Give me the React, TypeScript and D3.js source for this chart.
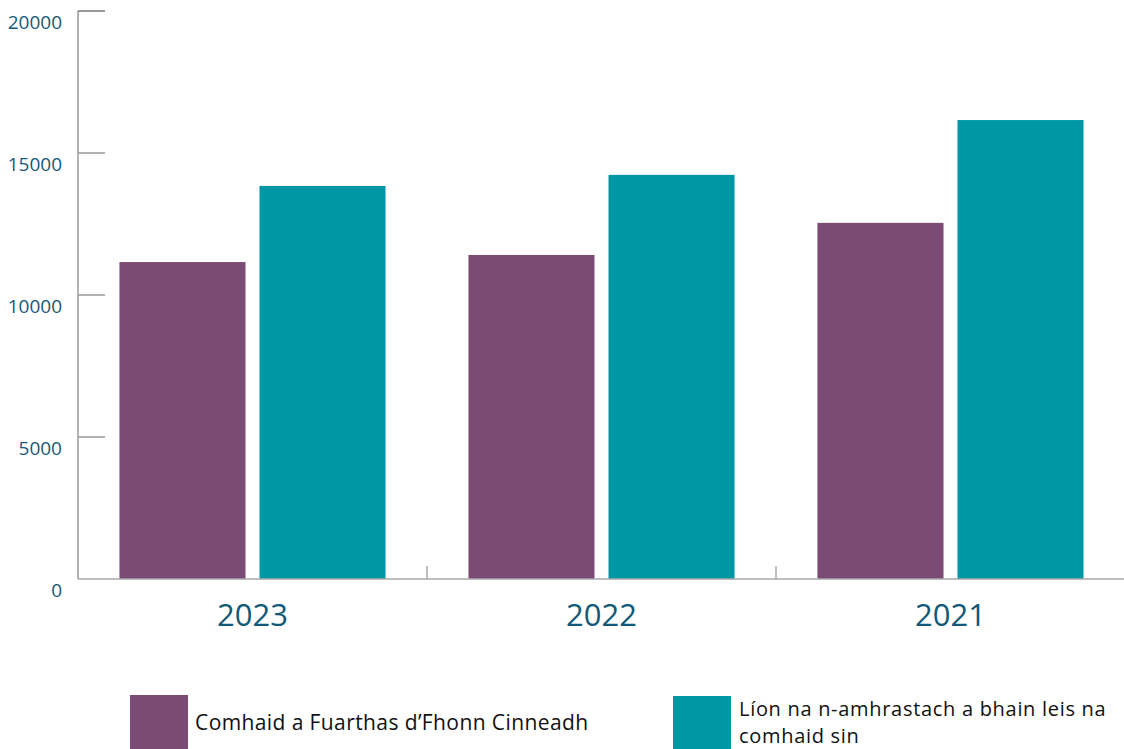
import React from "react";
import * as d3 from "d3";

const categories = ["2023", "2022", "2021"];
const seriesNames = ["Comhaid a Fuarthas d’Fhonn Cinneadh", "Líon na n-amhrastach a bhain leis na comhaid sin"];
const filesReceived = [11160, 11410, 12540];
const suspectsCount = [13840, 14230, 16160];
const yTicks = [0, 5000, 10000, 15000, 20000];
const colors = ["#7b4a75", "#0097a4"];

const W = 1124;
const H = 749;
const left = 78;
const right = 1125;
const top = 11;
const bottom = 579;

export default function App() {
  const y = d3.scaleLinear().domain([0, 20000]).range([bottom, top]);
  const x0 = d3.scaleBand<string>().domain(categories).range([left, right]).paddingInner(0).paddingOuter(0);
  const x1 = d3.scaleBand<string>().domain(["a", "b"]).range([0, x0.bandwidth()]).paddingInner(0.1).paddingOuter(0.296);
  const font = "'Open Sans', 'Noto Sans', sans-serif";
  const series = [filesReceived, suspectsCount];
  return (
    <svg width={W} height={H} style={{ position: "absolute", left: 0, top: 0, background: "#fff" }} fontFamily={font}>
      {/* y axis */}
      <line x1={left} x2={left} y1={top} y2={bottom} stroke="#9a9a9a" strokeWidth={1.5} />
      {yTicks.map((t) => (
        <g key={t}>
          {t > 0 && (
            <line x1={left} x2={left + 27} y1={y(t)} y2={y(t)} stroke={t === 20000 ? "#777" : "#999"} strokeWidth={1.5} />
          )}
          <text x={62} y={y(t) + 18} textAnchor="end" fontSize={19} fill="#17587a">
            {t}
          </text>
        </g>
      ))}
      {/* bars */}
      {categories.map((c, i) => (
        <g key={c} transform={`translate(${x0(c)},0)`}>
          {series.map((s, j) => {
            const key = j === 0 ? "a" : "b";
            return (
              <rect
                key={j}
                x={x1(key)}
                y={y(s[i])}
                width={x1.bandwidth()}
                height={bottom - y(s[i])}
                fill={colors[j]}
              />
            );
          })}
        </g>
      ))}
      {/* x axis */}
      <line x1={left} x2={right} y1={bottom} y2={bottom} stroke="#a8a8a8" strokeWidth={1.5} />
      {categories.slice(1).map((c) => (
        <line key={c} x1={x0(c)} x2={x0(c)} y1={bottom - 13} y2={bottom} stroke="#aaa" strokeWidth={1.5} />
      ))}
      {categories.map((c) => (
        <text key={c} x={(x0(c) as number) + x0.bandwidth() / 2} y={626} textAnchor="middle" fontSize={31} fill="#125a78">
          {c}
        </text>
      ))}
      {/* legend */}
      <rect x={130} y={695} width={58} height={58} fill={colors[0]} />
      <text x={195} y={730} fontSize={21} letterSpacing={0.4} fill="#111">
        {seriesNames[0]}
      </text>
      <rect x={673} y={696} width={58} height={58} fill={colors[1]} />
      <text x={739} y={716} fontSize={20} letterSpacing={0.7} fill="#111">
        <tspan x={739}>Líon na n-amhrastach a bhain leis na</tspan>
        <tspan x={739} dy={27}>comhaid sin</tspan>
      </text>
    </svg>
  );
}
